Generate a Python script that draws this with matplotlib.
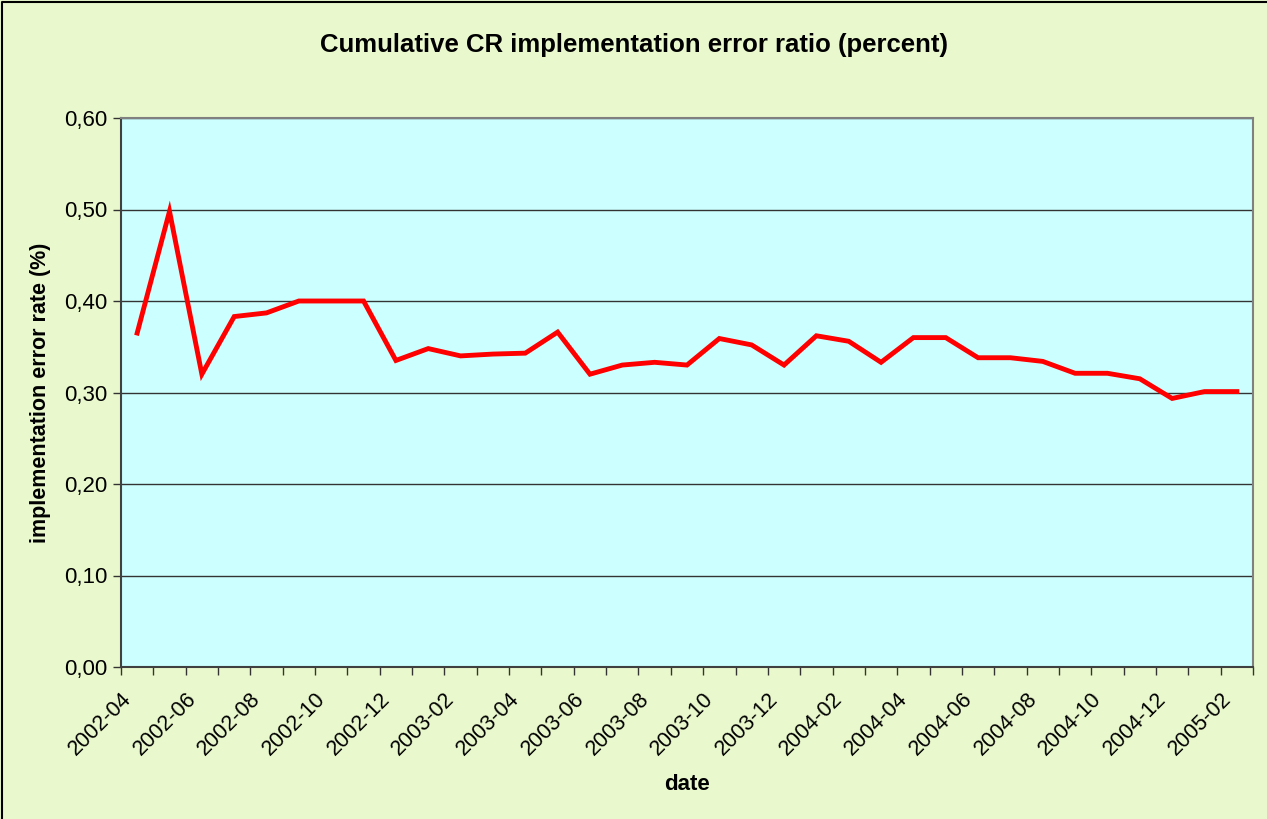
import numpy as np
import pandas as pd
import matplotlib
matplotlib.use("Agg")
import matplotlib.pyplot as plt
from matplotlib.lines import Line2D
from matplotlib.transforms import ScaledTranslation
from matplotlib.ticker import FixedLocator, FuncFormatter

plt.rcParams['font.family'] = ['Liberation Sans', 'DejaVu Sans']

# months 2002-04 .. 2005-02
months = [str(p) for p in pd.period_range('2002-04', '2005-02', freq='M')]
error_rate = [0.365, 0.498, 0.320, 0.383, 0.387, 0.400, 0.400, 0.400, 0.335, 0.348,
              0.340, 0.342, 0.343, 0.366, 0.320, 0.330, 0.333, 0.330, 0.359, 0.352,
              0.330, 0.362, 0.356, 0.333, 0.360, 0.360, 0.338, 0.338, 0.334, 0.321,
              0.321, 0.315, 0.2935, 0.301, 0.301]
y_ticks = [0.0, 0.1, 0.2, 0.3, 0.4, 0.5, 0.6]

W, H = 1267, 819
fig = plt.figure(figsize=(W / 100, H / 100), dpi=100)
fig.patch.set_facecolor('#EAF9CD')
# border only on top and left (rest is cropped off)
fig.lines.append(Line2D([2 / W, 2 / W, 1], [0, 1 - 2 / H, 1 - 2 / H], transform=fig.transFigure,
                        color='black', linewidth=1.5))

ax = fig.add_axes([121 / W, 1 - 667 / H, (1253 - 121) / W, (667 - 118) / H])
ax.set_facecolor('#CCFFFF')

x = np.arange(len(months))
ax.plot(x, error_rate, color='#FF0000', linewidth=3.5, solid_joinstyle='miter')

ax.set_xlim(-0.5, len(months) - 0.5)
ax.set_ylim(0, 0.6)

ax.set_yticks(y_ticks)
ax.yaxis.set_major_formatter(FuncFormatter(lambda v, p: f"{v:.2f}".replace('.', ',')))
ax.yaxis.grid(True, color='#333333', linewidth=1)
ax.set_axisbelow(True)

ax.set_xticks(x[::2])
ax.set_xticklabels(months[::2], rotation=45, ha='right', va='center', rotation_mode='anchor')
ax.xaxis.set_minor_locator(FixedLocator(np.arange(len(months) + 1) - 0.5))
ax.tick_params(axis='x', which='major', length=0, pad=21, labelsize=15.5)
ax.tick_params(axis='x', which='minor', length=6, width=1, color='#333333')
ax.tick_params(axis='y', length=6, width=1, color='#333333', labelsize=16, pad=4)

# nudge rotated labels left so they end just before the category centre
shift = ScaledTranslation(-0.09, 0, fig.dpi_scale_trans)
for lbl in ax.get_xticklabels():
    lbl.set_transform(lbl.get_transform() + shift)

for s in ['left', 'bottom']:
    ax.spines[s].set_color('#404040')
    ax.spines[s].set_linewidth(1.5)
for s in ['top', 'right']:
    ax.spines[s].set_color('#808080')
    ax.spines[s].set_linewidth(1.5)

ax.set_xlabel('date', fontsize=16, fontweight='bold', labelpad=10)
ax.set_ylabel('implementation error rate (%)', fontsize=15.5, fontweight='bold', labelpad=9)
fig.text(0.5, 1 - 45 / H, 'Cumulative CR implementation error ratio (percent)',
         ha='center', va='center', fontsize=18.5, fontweight='bold')

fig.savefig('out.png', dpi=100, facecolor=fig.get_facecolor())
